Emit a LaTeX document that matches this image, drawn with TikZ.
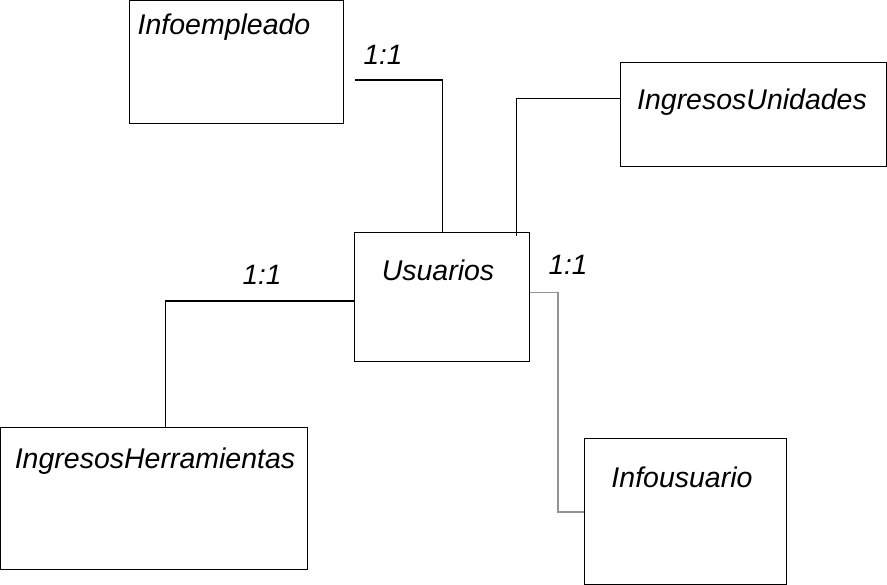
\documentclass[tikz,border=0pt]{standalone}
\usepackage{fontspec}
\setmainfont{Liberation Sans}
\usetikzlibrary{positioning}

\begin{document}
\begin{tikzpicture}[x=1pt,y=-1pt,line width=1.2pt,
	tabla/.style={draw,anchor=north west,inner sep=0pt},
	nombre/.style={anchor=base,inner sep=0pt,font=\itshape\fontsize{28.5}{30}\selectfont},
	card/.style={anchor=base,inner sep=0pt,font=\itshape\fontsize{28}{30}\selectfont}]

		\useasboundingbox (0,0) rectangle (887,585);

		\node[tabla,minimum width=214pt,minimum height=123pt] (infoempleado) at (129,0) {};
		\node[tabla,minimum width=266pt,minimum height=104pt] (unidades) at (620,62) {};
		\node[tabla,minimum width=175pt,minimum height=129pt] (usuarios) at (354,232) {};
		\node[tabla,minimum width=307pt,minimum height=142pt] (herramientas) at (0,427) {};
		\node[tabla,minimum width=202pt,minimum height=146pt] (infousuario) at (584,438) {};

		\node[nombre] (nInfoempleado) at (224,35) {Infoempleado};
		\node[nombre] (nUnidades) at (752,110) {IngresosUnidades};
		\node[nombre] (nUsuarios) at (438,281) {Usuarios};
		\node[nombre] (nHerramientas) at (155,468) {IngresosHerramientas};
		\node[nombre] (nInfousuario) at (682,487) {Infousuario};

		\coordinate (E1) at (355,80);
		\draw (E1) -| (usuarios.north);
		\draw ([yshift=16pt]unidades.west) -| ([xshift=74pt,yshift=-4pt]usuarios.north);
		\draw ([yshift=-4pt]usuarios.west) -| ([xshift=11pt]herramientas.north);
		\draw[gray!85,line width=1.8pt] ([yshift=4.5pt]usuarios.east) -- ++(28,0) |- (infousuario.west);

\node[card] (c1) at (383,65) {1:1};
\node[card] (c2) at (568,275) {1:1};
\node[card] (c3) at (262,285) {1:1};
	\end{tikzpicture}
\end{document}
